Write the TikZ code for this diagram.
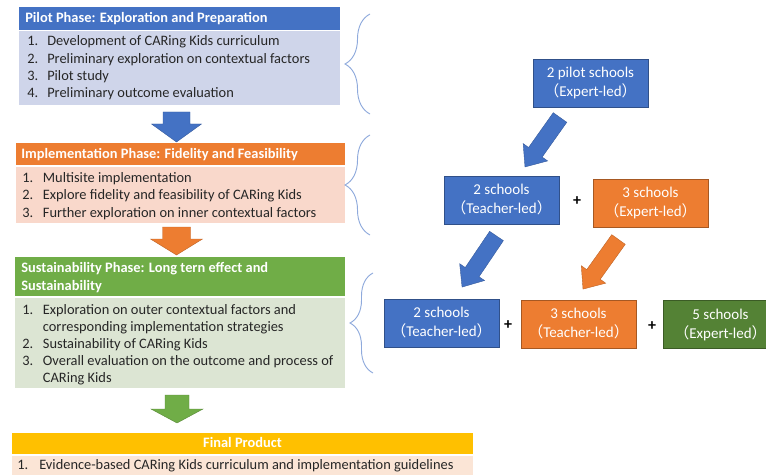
\documentclass[tikz,border=0pt]{standalone}
\usepackage{fontspec}
\setmainfont{Carlito}
\newfontfamily\cjk{Noto Sans CJK SC}
\usetikzlibrary{decorations.pathreplacing}
\definecolor{pblue}{HTML}{4472C4}
\definecolor{pbluebody}{HTML}{CFD5EA}
\definecolor{porange}{HTML}{ED7D31}
\definecolor{porangebody}{HTML}{F9D8CB}
\definecolor{pgreen}{HTML}{70AD47}
\definecolor{pgreenbody}{HTML}{DCE5D3}
\definecolor{pgold}{HTML}{FFC000}
\definecolor{pgoldbody}{HTML}{FBE5D6}
\definecolor{dgreen}{HTML}{548235}
\definecolor{bracec}{HTML}{8FAADC}
\newcommand{\numlbl}[2][15.5pt]{\makebox[#1][l]{#2}}
\newcommand{\lp}{{\cjk （}}
\newcommand{\rp}{{\cjk ）}}
\begin{document}
\begin{tikzpicture}[x=0.75pt,y=-0.75pt,
  panel/.style={draw=none, inner sep=0, anchor=north west},
  hdrtext/.style={text=white, font=\fontsize{10.8}{13}\selectfont\bfseries, inner sep=0, anchor=base west},
  itemtext/.style={text=black!85, font=\fontsize{10.8}{13}\selectfont, inner sep=0, anchor=base west},
  school/.style={draw=#1!70!black, fill=#1, line width=0.6pt, text=white, minimum width=86.25pt, minimum height=36pt, align=center, inner sep=0, font=\fontsize{11.25}{14.25}\selectfont},
  plus/.style={font=\fontsize{12}{12}\selectfont\bfseries, inner sep=0},
  phbrace/.style={decorate, decoration={brace, amplitude=#1}, draw=bracec, line width=0.7pt},
  pics/blkarrow/.style n args={5}{code={
    \filldraw[fill=#5, draw=#5!80!black, line width=0.3pt] (0,-#2) -- ({#1-#4},-#2) -- ({#1-#4},-#3) -- (#1,0) -- ({#1-#4},#3) -- ({#1-#4},#2) -- (0,#2) -- cycle;}}
]
\useasboundingbox (0,0) rectangle (766,474);
\clip (0,0) rectangle (766,474);

% Pilot phase
\node[panel, fill=pblue, minimum width=240.75pt, minimum height=17.25pt] (pilotH) at (19,7) {};
\node[panel, fill=pbluebody, minimum width=240.75pt, minimum height=55.5pt] (pilotB) at (19,31) {};
\node[hdrtext] (pilotHt) at (25,22.5) {Pilot Phase: Exploration and Preparation};
\node[itemtext] (p1) at (27,46) {\numlbl[15pt]{1.}Development of CARing Kids curriculum};
\node[itemtext] (p2) at (27,63.3) {\numlbl[15pt]{2.}Preliminary exploration on contextual factors};
\node[itemtext] (p3) at (27,80.6) {\numlbl[15pt]{3.}Pilot study};
\node[itemtext] (p4) at (27,98) {\numlbl[15pt]{4.}Preliminary outcome evaluation};

% Implementation phase
\node[panel, fill=porange, minimum width=246.75pt, minimum height=16.5pt] (implH) at (16,143) {};
\node[panel, fill=porangebody, minimum width=246.75pt, minimum height=42pt] (implB) at (16,167) {};
\node[hdrtext] (implHt) at (21,158) {Implementation Phase: Fidelity and Feasibility};
\node[itemtext] (i1) at (22,182) {\numlbl{1.}Multisite implementation};
\node[itemtext] (i2) at (22,199.5) {\numlbl{2.}Explore fidelity and feasibility of CARing Kids};
\node[itemtext] (i3) at (22,217) {\numlbl{3.}Further exploration on inner contextual factors};

% Sustainability phase
\node[panel, fill=pgreen, minimum width=247.5pt, minimum height=29.25pt] (sustH) at (15,257) {};
\node[panel, fill=pgreenbody, minimum width=247.5pt, minimum height=67.5pt] (sustB) at (15,298) {};
\node[hdrtext] (sustHt1) at (21,272) {Sustainability Phase: Long tern effect and};
\node[hdrtext] (sustHt2) at (21,290) {Sustainability};
\node[itemtext] (s1) at (22,314) {\numlbl{1.}Exploration on outer contextual factors and};
\node[itemtext] (s1b) at (22,331) {\numlbl{}corresponding implementation strategies};
\node[itemtext] (s2) at (22,348) {\numlbl{2.}Sustainability of CARing Kids};
\node[itemtext] (s3) at (22,365) {\numlbl{3.}Overall evaluation on the outcome and process of};
\node[itemtext] (s3b) at (22,382) {\numlbl{}CARing Kids};

% Final product
\node[panel, fill=pgold, minimum width=345.75pt, minimum height=15.75pt] (finH) at (12,433) {};
\node[panel, fill=pgoldbody, minimum width=345.75pt, minimum height=24pt] (finB) at (12,456) {};
\node[hdrtext, anchor=base] (finHt) at (242.5,447) {Final Product};
\node[itemtext] (f1) at (17,469) {\numlbl[16.5pt]{1.}Evidence-based CARing Kids curriculum and implementation guidelines};

% Down block arrows between phases
\pic[rotate=-90] (arrPI) at (176.5,112) {blkarrow={30}{13.5}{25}{18}{pblue}};
\pic[rotate=-90] (arrIS) at (176.5,227) {blkarrow={28}{14}{26}{16}{porange}};
\pic[rotate=-90] (arrSF) at (177,395) {blkarrow={28}{12}{26}{14}{pgreen}};

% Braces
\draw[phbrace=18.75pt] (370,114) -- (370,14);
\draw[phbrace=18.75pt] (370,235) -- (370,135);
\draw[phbrace=17.25pt] (373,373) -- (373,273);

% Schools
\node[school=pblue] (pilot2) at (590.5,83) {2 pilot schools\\\lp Expert-led\rp};
\node[school=pblue] (teach2a) at (501.5,200) {2 schools\\\lp Teacher-led\rp};
\node[school=porange] (exp3) at (650.5,203) {3 schools\\\lp Expert-led\rp};
\node[school=pblue] (teach2b) at (441.5,323) {2 schools\\\lp Teacher-led\rp};
\node[school=porange] (teach3) at (578.5,324) {3 schools\\\lp Teacher-led\rp};
\node[school=dgreen] (exp5) at (720.5,324.5) {5 schools\\\lp Expert-led\rp};
\node[plus] (plusA) at (577,201) {+};
\node[plus] (plusB) at (508,325) {+};
\node[plus] (plusC) at (652,326) {+};

% Diagonal block arrows
\pic[rotate=234.7] (arrA) at (560,117.5) {blkarrow={60.6}{8.3}{15}{18}{pblue}};
\pic[rotate=236] (arrB) at (496.5,236) {blkarrow={61.6}{8.3}{15}{18}{pblue}};
\pic[rotate=234.4] (arrC) at (618.5,239.5) {blkarrow={61}{8.3}{15}{18}{porange}};
\end{tikzpicture}
\end{document}
